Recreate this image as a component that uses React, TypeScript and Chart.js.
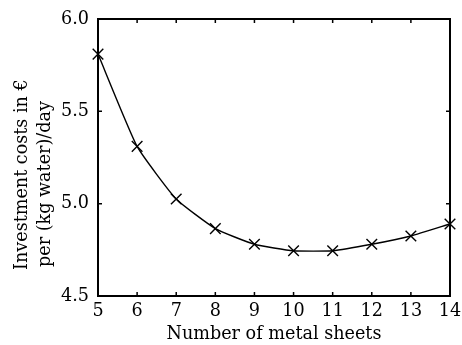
import React, { useEffect, useRef } from "react";
import { Chart, registerables } from "chart.js";

Chart.register(...registerables);

const sheets = [5, 6, 7, 8, 9, 10, 11, 12, 13, 14];
const costs = [5.81, 5.31, 5.025, 4.865, 4.78, 4.745, 4.745, 4.78, 4.825, 4.89];
const yTicks = [4.5, 5.0, 5.5, 6.0];
const xTitle = "Number of metal sheets";
const yTitle = ["Investment costs in €", "per (kg water)/day"];

const FONT = "'DejaVu Serif', serif";
const FS = 17.6;

const framePlugin = {
  id: "frame",
  afterDraw(chart: any) {
    const { ctx, chartArea, scales } = chart;
    const { left, right, top, bottom } = chartArea;
    ctx.save();
    ctx.strokeStyle = "#000";
    ctx.lineWidth = 1.5;
    const tl = 4;
    ctx.beginPath();
    scales.x.ticks.forEach((t: any) => {
      const px = scales.x.getPixelForValue(t.value);
      ctx.moveTo(px, bottom);
      ctx.lineTo(px, bottom - tl);
      ctx.moveTo(px, top);
      ctx.lineTo(px, top + tl);
    });
    scales.y.ticks.forEach((t: any) => {
      const py = scales.y.getPixelForValue(t.value);
      ctx.moveTo(left, py);
      ctx.lineTo(left + tl, py);
      ctx.moveTo(right, py);
      ctx.lineTo(right - tl, py);
    });
    ctx.stroke();
    ctx.lineWidth = 2;
    ctx.strokeRect(left, top, right - left, bottom - top);
    // y-axis title (two lines, rotated)
    ctx.fillStyle = "#000";
    ctx.font = FS + "px " + FONT;
    ctx.textBaseline = "alphabetic";
    ctx.textAlign = "left";
    const starts = [bottom - 26, bottom - 29];
    const bases = [27, 50];
    yTitle.forEach((line, i) => {
      ctx.save();
      ctx.translate(bases[i], starts[i]);
      ctx.rotate(-Math.PI / 2);
      ctx.fillText(line, 0, 0);
      ctx.restore();
    });
    ctx.restore();
  },
};

export default function App() {
  const ref = useRef<HTMLCanvasElement>(null);
  useEffect(() => {
    document.body.style.margin = "0";
    const chart = new Chart(ref.current!, {
      type: "line",
      data: {
        datasets: [
          {
            data: sheets.map((x, i) => ({ x, y: costs[i] })),
            borderColor: "#000",
            backgroundColor: "#000",
            borderWidth: 1.4,
            pointStyle: "crossRot",
            pointRadius: 7.5,
            pointBorderWidth: 1.4,
            pointBorderColor: "#000",
            tension: 0.15,
            clip: false as any,
          },
        ],
      },
      options: {
        animation: false,
        responsive: false,
        maintainAspectRatio: false,
        layout: { padding: { left: 0, top: 19, right: 12, bottom: 0 } },
        plugins: { legend: { display: false }, tooltip: { enabled: false } },
        scales: {
          x: {
            type: "linear",
            min: 5,
            max: 14,
            afterBuildTicks: (s: any) => {
              s.ticks = sheets.map((v) => ({ value: v }));
            },
            afterFit: (s: any) => {
              s.height = 49;
              s.paddingLeft = 0;
              s.paddingRight = 0;
            },
            grid: { display: false, drawTicks: false },
            border: { display: false },
            ticks: {
              padding: 5,
              color: "#000",
              font: { family: FONT, size: FS },
              maxRotation: 0,
              autoSkip: false,
            },
            title: {
              display: true,
              text: xTitle,
              color: "#000",
              font: { family: FONT, size: FS },
              padding: { top: 0, bottom: 0 },
            },
          },
          y: {
            type: "linear",
            min: 4.5,
            max: 6.0,
            afterBuildTicks: (s: any) => {
              s.ticks = yTicks.map((v) => ({ value: v }));
            },
            afterFit: (s: any) => {
              s.width = 98;
              s.paddingTop = 0;
              s.paddingBottom = 0;
            },
            grid: { display: false, drawTicks: false },
            border: { display: false },
            ticks: {
              padding: 9,
              color: "#000",
              font: { family: FONT, size: FS },
              callback: (v: any) => Number(v).toFixed(1),
            },
          },
        },
      },
      plugins: [framePlugin],
    });
    return () => chart.destroy();
  }, []);
  return (
    <div style={{ width: 462, height: 345 }}>
      <canvas ref={ref} width={462} height={345} />
    </div>
  );
}
